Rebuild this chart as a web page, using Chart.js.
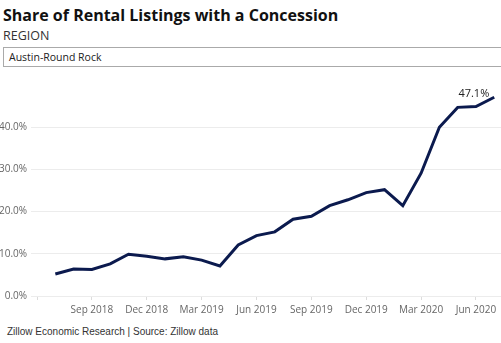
<!DOCTYPE html>
<html>
<head>
<meta charset="utf-8">
<script src="https://cdn.jsdelivr.net/npm/chart.js@4/dist/chart.umd.min.js"></script>
<style>
  html, body { margin: 0; padding: 0; background: #fff; }
  body { width: 501px; height: 343px; position: relative; overflow: hidden; font-family: "Open Sans", "Noto Sans", sans-serif; }
  #title { position: absolute; left: 3px; top: 2px; font-size: 16px; font-weight: 700; color: #111; white-space: nowrap; line-height: 26px; }
  #region { position: absolute; left: 3px; top: 27px; font-size: 12.5px; color: #333; line-height: 18px; }
  #select { position: absolute; left: 3px; top: 47px; width: 498px; height: 20px; border: 1px solid #aaa; border-right: none; font-size: 10.5px; line-height: 18px; color: #222; padding-left: 5px; box-sizing: border-box; }
  #chartBox { position: absolute; left: 0; top: 75px; width: 501px; height: 241px; }
  #footer { position: absolute; left: 7px; top: 324px; font-size: 10px; color: #333; line-height: 16px; font-family: "Liberation Sans", Arial, sans-serif; white-space: nowrap; }
</style>
</head>
<body>
<div id="title">Share of Rental Listings with a Concession</div>
<div id="region">REGION</div>
<div id="select">Austin-Round Rock</div>
<div id="chartBox"><canvas id="chart"></canvas></div>
<div id="footer">Zillow Economic Research | Source: Zillow data</div>
<script>
// Monthly observations, Jul 2018 – Jul 2020
const months = [
  'Jul 2018', 'Aug 2018', 'Sep 2018', 'Oct 2018', 'Nov 2018', 'Dec 2018',
  'Jan 2019', 'Feb 2019', 'Mar 2019', 'Apr 2019', 'May 2019', 'Jun 2019',
  'Jul 2019', 'Aug 2019', 'Sep 2019', 'Oct 2019', 'Nov 2019', 'Dec 2019',
  'Jan 2020', 'Feb 2020', 'Mar 2020', 'Apr 2020', 'May 2020', 'Jun 2020',
  'Jul 2020'
];
// Share of listings offering a concession (%)
const share = [
  5.2, 6.4, 6.3, 7.6, 9.9, 9.4,
  8.8, 9.3, 8.5, 7.1, 12.1, 14.3,
  15.2, 18.2, 18.9, 21.4, 22.8, 24.5,
  25.2, 21.4, 29.1, 40.0, 44.7, 44.9,
  47.1
];
// Quarterly axis ticks
const xTickLabels = ['Jun 2018', 'Sep 2018', 'Dec 2018', 'Mar 2019', 'Jun 2019', 'Sep 2019', 'Dec 2019', 'Mar 2020', 'Jun 2020'];
const yTickValues = [0, 10, 20, 30, 40];

const MON = ['Jan','Feb','Mar','Apr','May','Jun','Jul','Aug','Sep','Oct','Nov','Dec'];
function monthNumber(label) {
  const [m, y] = label.split(' ');
  return Number(y) * 12 + MON.indexOf(m);
}
const base = monthNumber(months[0]);
const monthIndex = label => monthNumber(label) - base;

const points = share.map((v, i) => ({ x: monthIndex(months[i]), y: v }));
const xTickPos = xTickLabels.map(monthIndex);

const FONT = '"Open Sans", "Noto Sans", sans-serif';

// Writes the latest value beside the end of the line
const endLabel = {
  id: 'endLabel',
  afterDatasetsDraw(chart) {
    const meta = chart.getDatasetMeta(0);
    const last = meta.data[meta.data.length - 1];
    const value = share[share.length - 1];
    const ctx = chart.ctx;
    ctx.save();
    ctx.font = '11px ' + FONT;
    ctx.fillStyle = '#222';
    ctx.textAlign = 'right';
    ctx.textBaseline = 'middle';
    ctx.fillText(value.toFixed(1) + '%', last.x - 5, last.y - 3);
    ctx.restore();
  }
};

new Chart(document.getElementById('chart'), {
  type: 'line',
  data: {
    datasets: [{
      data: points,
      borderColor: '#0b1a4e',
      borderWidth: 3,
      pointRadius: 0,
      tension: 0,
      fill: false,
      clip: 4
    }]
  },
  options: {
    responsive: true,
    maintainAspectRatio: false,
    animation: false,
    events: [],
    layout: { padding: { top: 6, right: 0, left: 0, bottom: 0 } },
    plugins: { legend: { display: false }, tooltip: { enabled: false } },
    scales: {
      x: {
        type: 'linear',
        min: -1.33,
        max: 24.37,
        afterBuildTicks: s => { s.ticks = xTickPos.map(v => ({ value: v })); },
        afterFit: s => { s.height = 20; },
        grid: { drawOnChartArea: false, drawTicks: true, tickLength: 4, color: '#dcdcdc' },
        border: { display: false },
        ticks: {
          autoSkip: false,
          maxRotation: 0,
          padding: 4,
          color: '#666',
          font: { family: FONT, size: 10 },
          callback: (v) => {
            const i = xTickPos.indexOf(v);
            // first quarter sits under the value axis labels, left blank
            return i > 0 ? xTickLabels[i] : '';
          }
        }
      },
      y: {
        min: 0,
        max: 50,
        afterBuildTicks: s => { s.ticks = yTickValues.map(v => ({ value: v })); },
        afterFit: s => { s.width = 31; },
        grid: { color: '#ececec', drawTicks: false },
        border: { display: false },
        ticks: {
          padding: 4,
          color: '#666',
          font: { family: FONT, size: 10 },
          callback: v => v.toFixed(1) + '%'
        }
      }
    }
  },
  plugins: [endLabel]
});
</script>
</body>
</html>
